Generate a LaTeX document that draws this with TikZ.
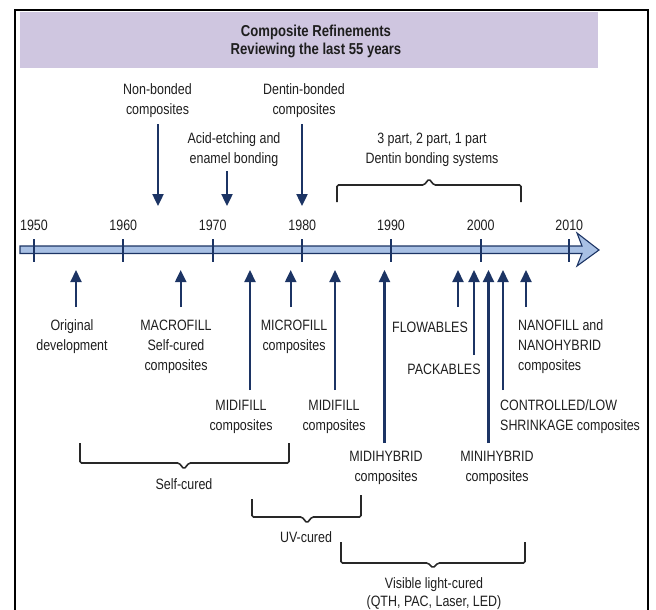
\documentclass[tikz,border=0pt]{standalone}
\usepackage{fontspec}
\setmainfont{Liberation Sans}[FakeStretch=0.83]
\usetikzlibrary{arrows.meta}
\definecolor{navy}{RGB}{28,52,100}
\definecolor{axisfill}{RGB}{168,192,228}
\definecolor{band}{RGB}{207,198,224}
\definecolor{txt}{RGB}{30,30,30}
\definecolor{bracecol}{RGB}{40,40,40}
\tikzset{
  lbl/.style={font=\fontsize{15}{20}\selectfont, align=center, inner sep=0pt, text=txt},
  lbll/.style={lbl, align=left},
  hdr/.style={font=\fontsize{15.8}{18}\selectfont\bfseries, align=center, inner sep=0pt, text=txt},
  darr/.style={navy, line width=2.4pt, -{Triangle[width=11pt,length=12pt]}},
  uarr/.style={navy, line width=2.1pt, -{Triangle[width=11pt,length=12pt]}},
  tick/.style={navy, line width=1.8pt},
  bracestyle/.style={bracecol, line width=1.6pt, rounded corners=1.5pt},
}
\begin{document}
\begin{tikzpicture}[x=1pt,y=-1pt]
\useasboundingbox (0,0) rectangle (656,610);
% frame
\draw[black, line width=2pt] (15,610) -- (15,10) -- (648,10) -- (648,610);
% header band
\fill[band] (20,12) rectangle (598,68);
\node[hdr] (title) at (316,41) {Composite Refinements\\Reviewing the last 55 years};

% axis
\draw[navy, line width=1.1pt, fill=axisfill]
  (20,246) -- (582,246) -- (577,233) -- (599,250) -- (577,266) -- (582,253.5) -- (20,253.5) -- cycle;
\foreach \yr/\xx in {1950/34,1960/123.3,1970/212.7,1980/302.3,1990/391,2000/480.7,2010/569.3}{
  \coordinate (t\yr a) at (\xx,239);
  \coordinate (t\yr b) at (\xx,262);
  \draw[tick] (t\yr a) -- (t\yr b);
  \node[lbl] (y\yr) at (\xx,225) {\yr};
}

% upper labels and down arrows
\node[lbl] (nonb) at (157.5,101) {Non-bonded\\composites};
\coordinate (nonbs) at (158,124);
\coordinate (nonbe) at (158,206);
\draw[darr] (nonbs) -- (nonbe);

\node[lbl] (dent) at (304,101) {Dentin-bonded\\composites};
\coordinate (dents) at (302,124);
\coordinate (dente) at (302,206);
\draw[darr] (dents) -- (dente);

\node[lbl] (acid) at (234,150) {Acid-etching and\\enamel bonding};
\coordinate (acids) at (227,171);
\coordinate (acide) at (227,206);
\draw[darr] (acids) -- (acide);

\node[lbl] (dbs) at (432,150) {3 part, 2 part, 1 part\\Dentin bonding systems};
\draw[bracestyle] (337,202) -- (337,185) -- (424,185) -- (429,179) -- (434,185) -- (521,185) -- (521,202);

% lower arrows
\coordinate (origE) at (76,270);   \coordinate (origS) at (76,307);
\coordinate (macrE) at (180.7,270); \coordinate (macrS) at (180.7,307);
\coordinate (mid1E) at (250,270);  \coordinate (mid1S) at (250,390);
\coordinate (micrE) at (290.7,270); \coordinate (micrS) at (290.7,307);
\coordinate (mid2E) at (335,270);  \coordinate (mid2S) at (335,390);
\coordinate (mhybE) at (384.5,270); \coordinate (mhybS) at (384.5,443);
\coordinate (flowE) at (458,270);  \coordinate (flowS) at (458,307);
\coordinate (packE) at (474,270);  \coordinate (packS) at (474,355);
\coordinate (minhE) at (488.5,270); \coordinate (minhS) at (488.5,443);
\coordinate (contE) at (503,270);  \coordinate (contS) at (503,390);
\coordinate (nanoE) at (526,270);  \coordinate (nanoS) at (526,307);
\foreach \n in {orig,macr,mid1,micr,mid2,mhyb,flow,pack,minh,cont,nano}{
  \draw[uarr] (\n S) -- (\n E);
}

\node[lbl] (orig) at (72,337) {Original\\development};
\node[lbl] (macr) at (176,347) {MACROFILL\\Self-cured\\composites};
\node[lbl] (micr) at (294,337) {MICROFILL\\composites};
\node[lbl] (mid1) at (241,417) {MIDIFILL\\composites};
\node[lbl] (mid2) at (334,417) {MIDIFILL\\composites};
\node[lbl] (flow) at (430,327) {FLOWABLES};
\node[lbl] (pack) at (444,369) {PACKABLES};
\node[lbll, anchor=west] (nano) at (518,347) {NANOFILL and\\NANOHYBRID\\composites};
\node[lbll, anchor=west] (cont) at (500,417) {CONTROLLED/LOW\\SHRINKAGE composites};
\node[lbl] (mhyb) at (386,468) {MIDIHYBRID\\composites};
\node[lbl] (minh) at (497,468) {MINIHYBRID\\composites};

% bottom braces
\draw[bracestyle] (80,443) -- (80,463) -- (179,463) -- (184,469) -- (189,463) -- (289,463) -- (289,443);
\node[lbl] (self) at (184,484) {Self-cured};
\draw[bracestyle] (252,499) -- (252,517) -- (302,517) -- (307,523) -- (312,517) -- (361,517) -- (361,495);
\node[lbl] (uv) at (306,537) {UV-cured};
\draw[bracestyle] (341,542) -- (341,563) -- (428,563) -- (433,568) -- (438,563) -- (525,563) -- (525,542);
\node[lbl] (vis) at (434,585) {Visible light-cured};
\node[lbl] (visb) at (434,603) {(QTH, PAC, Laser, LED)};
\end{tikzpicture}
\end{document}
